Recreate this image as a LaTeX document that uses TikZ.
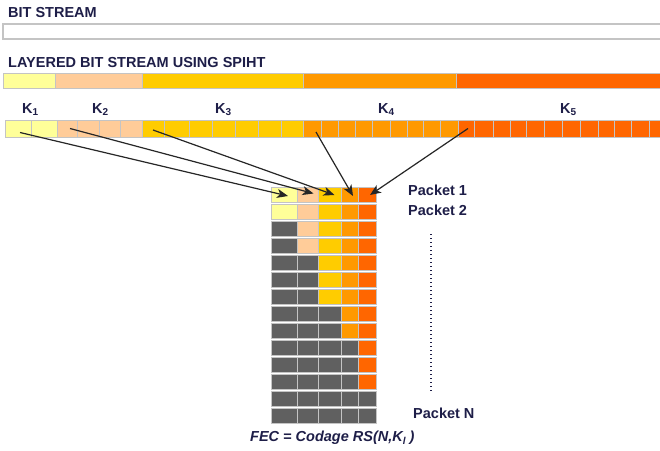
\documentclass[tikz,border=0pt]{standalone}
\usepackage{fontspec}
\setmainfont{Liberation Sans}
\usetikzlibrary{arrows.meta}
\definecolor{ink}{HTML}{1E1E48}
\definecolor{edge}{HTML}{C4C4C4}
\definecolor{cyel}{HTML}{FFFF99}
\definecolor{cpea}{HTML}{FFCC99}
\definecolor{cgol}{HTML}{FFCC00}
\definecolor{cora}{HTML}{FF9900}
\definecolor{cred}{HTML}{FF6600}
\definecolor{cgry}{HTML}{606060}
\newcommand{\ksub}[1]{K\raisebox{-2.5pt}{\fontsize{10}{10}\selectfont #1}}
\begin{document}
\begin{tikzpicture}[x=1pt,y=-1pt,
  lbl/.style={font=\fontsize{14.5}{16}\selectfont\bfseries, text=ink, inner sep=0pt, anchor=base west},
  seg/.style={draw=edge, line width=1pt, inner sep=0pt, outer sep=0pt, minimum height=15pt, anchor=north west},
  cell/.style={draw=edge, line width=0.8pt, inner sep=0pt, outer sep=0pt, minimum height=17pt, anchor=north west},
  pcell/.style={draw=edge, line width=0.8pt, inner sep=0pt, outer sep=0pt, minimum height=15pt, anchor=north west},
  arr/.style={draw=black!85, line width=1.2pt, -{Stealth[length=11pt,width=9pt,inset=3pt]}}]
\clip (0,0) rectangle (660,450);
\fill[white] (0,0) rectangle (660,450);

% plain bit stream
\node[lbl] (tbits) at (8,17.5) {BIT STREAM};
\draw[edge, line width=1.4pt, fill=white] (670,24) -- (3,24) -- (3,39) -- (670,39);

% layered bit stream
\node[lbl] (tlay) at (8,67) {LAYERED BIT STREAM USING SPIHT};
\foreach \a/\b/\c [count=\i] in {3/55/cyel,55/142/cpea,142/303/cgol,303/456/cora,456/670/cred}{
  \pgfmathsetmacro\w{\b-\a}
  \node[seg, fill=\c, minimum width=\w pt] (lay\i) at (\a,73) {};
}

% layers split into symbols
\foreach \a/\b/\c [count=\i] in {
  5/31/cyel,31/57/cyel,
  57/77/cpea,77/99/cpea,99/120/cpea,120/142/cpea,
  142/164/cgol,164/189/cgol,189/212/cgol,212/235/cgol,235/258/cgol,258/281/cgol,281/303/cgol,
  303/321/cora,321/338/cora,338/355/cora,355/372/cora,372/390/cora,390/407/cora,407/423/cora,423/440/cora,440/458/cora,
  458/474/cred,474/493/cred,493/510/cred,510/526/cred,526/544/cred,544/562/cred,562/580/cred,580/598/cred,598/614/cred,614/631/cred,631/649/cred,649/667/cred}{
  \pgfmathsetmacro\w{\b-\a}
  \node[cell, fill=\c, minimum width=\w pt] (r\i) at (\a,120) {};
}
\node[lbl] (k1) at (22,113) {\ksub{1}};
\node[lbl] (k2) at (92,113) {\ksub{2}};
\node[lbl] (k3) at (215,113) {\ksub{3}};
\node[lbl] (k4) at (378,113) {\ksub{4}};
\node[lbl] (k5) at (560,113) {\ksub{5}};

% packets: erased symbols shown in grey
\foreach \g [count=\r] in {0,0,1,1,2,2,2,3,3,4,4,4,5,5}{
  \pgfmathsetmacro\y{187+17*(\r-1)}
  \foreach \a/\b/\c [count=\k] in {271/297/cyel,297/318/cpea,318/341/cgol,341/358/cora,358/376/cred}{
    \ifnum\k>\g\relax \def\f{\c}\else \def\f{cgry}\fi
    \pgfmathsetmacro\w{\b-\a}
    \node[pcell, fill=\f, minimum width=\w pt] (p\r-\k) at (\a,\y) {};
  }
}

% symbol to packet mapping
\draw[arr] ([shift={(2,4)}]r1.center) -- ([shift={(4,1.5)}]p1-1.center);
\draw[arr] ([shift={(3,0)}]r3.center) -- ([shift={(6,-1)}]p1-2.center);
\draw[arr] ([shift={(0,1.5)}]r7.center) -- ([shift={(5,0.5)}]p1-3.center);
\draw[arr] ([shift={(4,3.5)}]r14.center) -- ([shift={(3.5,1.5)}]p1-4.center);
\draw[arr] ([shift={(2,0)}]r23.center) -- ([shift={(3,0.5)}]p1-5.center);

% packet labels
\node[lbl] (pk1) at (408,195) {Packet 1};
\node[lbl] (pk2) at (408,215) {Packet 2};
\coordinate (dtop) at (431,234);
\coordinate (dbot) at (431,392);
\draw[ink, line width=1.3pt, dash pattern=on 1.3pt off 2.7pt] (dtop) -- (dbot);
\node[lbl] (pkn) at (413,418) {Packet N};
\node[lbl, font=\fontsize{14.5}{16}\selectfont\bfseries\itshape] (fec) at (250,441)
  {FEC = Codage RS(N,K\raisebox{-3pt}{\fontsize{10}{10}\selectfont l} )};
\end{tikzpicture}
\end{document}
